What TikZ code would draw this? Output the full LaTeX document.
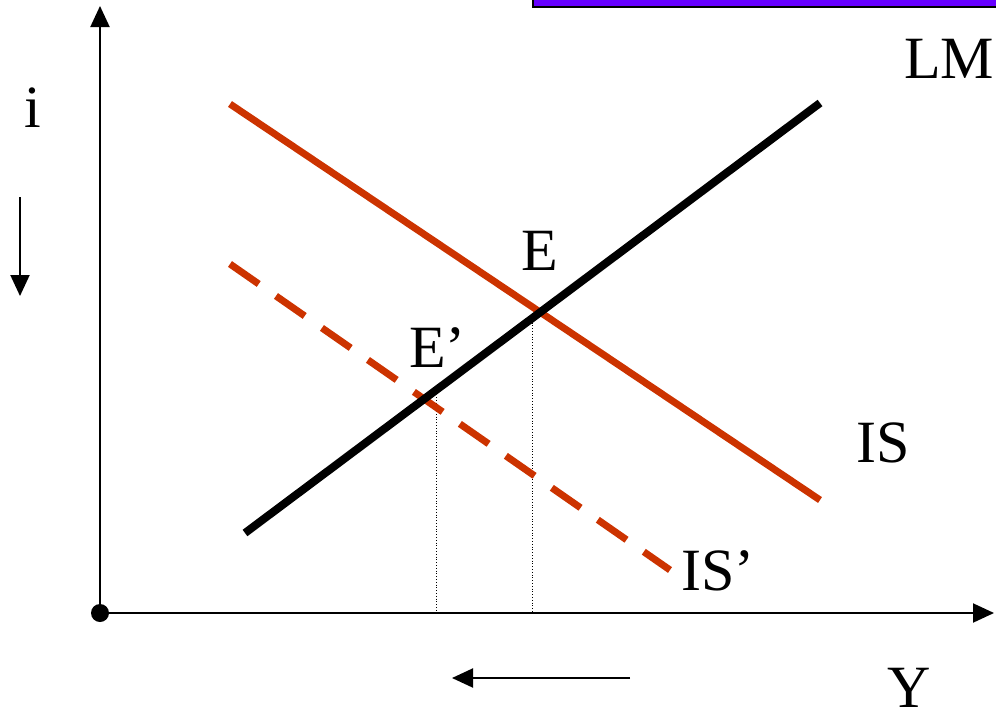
\documentclass[tikz,border=0pt]{standalone}
\usepackage{fontspec}
\setmainfont{Liberation Serif}
\usetikzlibrary{arrows.meta}
\definecolor{isred}{HTML}{CC3300}
\definecolor{barpurple}{HTML}{6600FF}
\begin{document}
\begin{tikzpicture}[x=1pt,y=-1pt,
  lbl/.style={font=\fontsize{60}{60}\selectfont, inner sep=0pt, anchor=base west},
  axis/.style={line width=2pt, -{Triangle[length=21pt,width=19pt]}},
  hint/.style={line width=2pt, -{Triangle[length=21pt,width=19pt]}},
  iscurve/.style={isred, line width=7pt},
  lmcurve/.style={black, line width=8pt},
  drop/.style={line width=0.8pt, dotted}]
\useasboundingbox (0,0) rectangle (996,720);
% purple bar
\draw[fill=barpurple, line width=2pt] (533,-10) rectangle (1000,7);
% coordinates
\coordinate (O) at (100,613);
\coordinate (ytop) at (100,6);
\coordinate (xend) at (994,613);
\coordinate (is1) at (230,104);
\coordinate (is2) at (820,500);
\coordinate (lm1) at (245,533);
\coordinate (lm2) at (820,103);
\coordinate (isp1) at (230,264);
\coordinate (isp2) at (670,570);
\coordinate (eTop) at (532,317);
\coordinate (eBot) at (532,613);
\coordinate (epTop) at (436,397);
\coordinate (epBot) at (436,613);
\coordinate (ia1) at (20,197);
\coordinate (ia2) at (20,296);
\coordinate (ya1) at (630,678);
\coordinate (ya2) at (452,678);
% axes
\draw[axis] (O) -- (ytop);
\draw[axis] (O) -- (xend);
\fill (O) circle (9);
% dotted drops
\draw[drop] (eTop) -- (eBot);
\draw[drop] (epTop) -- (epBot);
% curves
\draw[iscurve] (is1) -- (is2);
\draw[iscurve, dash pattern=on 35pt off 21pt] (isp1) -- (isp2);
\draw[lmcurve] (lm1) -- (lm2);
% hint arrows
\draw[hint] (ia1) -- (ia2);
\draw[hint] (ya1) -- (ya2);
% labels
\node[lbl] (LM) at (904,78) {LM};
\node[lbl] (i) at (24,127) {i};
\node[lbl] (E) at (521,270) {E};
\node[lbl] (Ep) at (409,367) {E’};
\node[lbl] (IS) at (856,462) {IS};
\node[lbl] (ISp) at (681,590) {IS’};
\node[lbl] (Y) at (887,707) {Y};
\end{tikzpicture}
\end{document}
